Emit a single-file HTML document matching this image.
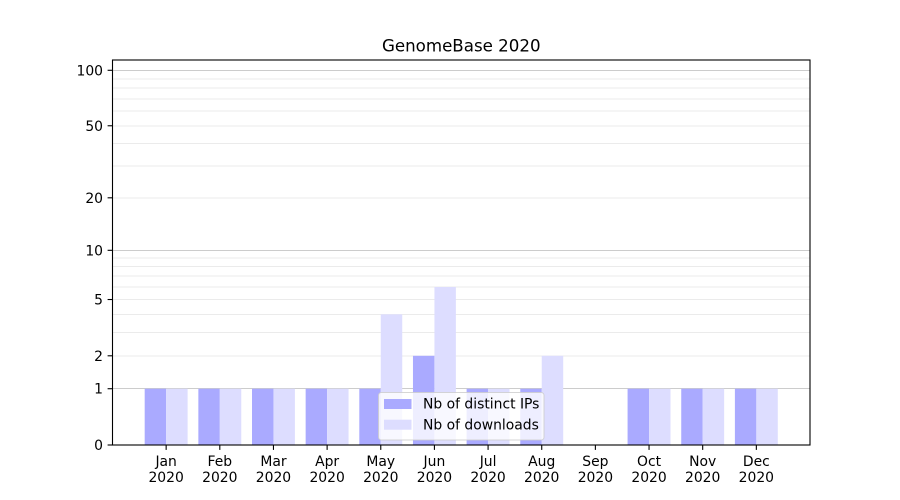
<!DOCTYPE html>
<html>
<head>
<meta charset="utf-8">
<style>
html,body{margin:0;padding:0;background:#fff;}
svg{display:block;}
text{font-family:"DejaVu Sans","Liberation Sans",sans-serif;fill:#000;}
</style>
</head>
<body>
<svg width="900" height="500" viewBox="0 0 900 500" xmlns="http://www.w3.org/2000/svg">
<rect x="0" y="0" width="900" height="500" fill="#fff"/>
<!-- minor grid -->
<g stroke="#ebebeb" stroke-width="1" shape-rendering="crispEdges">
<line x1="112.5" x2="810" y1="355.8" y2="355.8"/>
<line x1="112.5" x2="810" y1="332.44" y2="332.44"/>
<line x1="112.5" x2="810" y1="314.33" y2="314.33"/>
<line x1="112.5" x2="810" y1="299.52" y2="299.52"/>
<line x1="112.5" x2="810" y1="287.01" y2="287.01"/>
<line x1="112.5" x2="810" y1="276.17" y2="276.17"/>
<line x1="112.5" x2="810" y1="266.6" y2="266.6"/>
<line x1="112.5" x2="810" y1="258.05" y2="258.05"/>
<line x1="112.5" x2="810" y1="197.81" y2="197.81"/>
<line x1="112.5" x2="810" y1="166.19" y2="166.19"/>
<line x1="112.5" x2="810" y1="143.49" y2="143.49"/>
<line x1="112.5" x2="810" y1="125.77" y2="125.77"/>
<line x1="112.5" x2="810" y1="111.23" y2="111.23"/>
<line x1="112.5" x2="810" y1="98.91" y2="98.91"/>
<line x1="112.5" x2="810" y1="88.21" y2="88.21"/>
<line x1="112.5" x2="810" y1="78.76" y2="78.76"/>
</g>
<!-- major grid -->
<g stroke="#cccccc" stroke-width="1" shape-rendering="crispEdges">
<line x1="112.5" x2="810" y1="388.72" y2="388.72"/>
<line x1="112.5" x2="810" y1="250.31" y2="250.31"/>
<line x1="112.5" x2="810" y1="70.29" y2="70.29"/>
</g>
<!-- bars: IPs -->
<g fill="#aaaaff">
<rect x="144.69" y="388.72" width="21.46" height="56.28"/>
<rect x="198.35" y="388.72" width="21.46" height="56.28"/>
<rect x="252.0" y="388.72" width="21.46" height="56.28"/>
<rect x="305.65" y="388.72" width="21.46" height="56.28"/>
<rect x="359.31" y="388.72" width="21.46" height="56.28"/>
<rect x="412.96" y="355.8" width="21.46" height="89.2"/>
<rect x="466.62" y="388.72" width="21.46" height="56.28"/>
<rect x="520.27" y="388.72" width="21.46" height="56.28"/>
<rect x="627.58" y="388.72" width="21.46" height="56.28"/>
<rect x="681.23" y="388.72" width="21.46" height="56.28"/>
<rect x="734.89" y="388.72" width="21.46" height="56.28"/>
</g>
<!-- bars: downloads -->
<g fill="#ddddff">
<rect x="166.15" y="388.72" width="21.46" height="56.28"/>
<rect x="219.81" y="388.72" width="21.46" height="56.28"/>
<rect x="273.46" y="388.72" width="21.46" height="56.28"/>
<rect x="327.12" y="388.72" width="21.46" height="56.28"/>
<rect x="380.77" y="314.33" width="21.46" height="130.67"/>
<rect x="434.42" y="287.01" width="21.46" height="157.99"/>
<rect x="488.08" y="388.72" width="21.46" height="56.28"/>
<rect x="541.73" y="355.8" width="21.46" height="89.2"/>
<rect x="649.04" y="388.72" width="21.46" height="56.28"/>
<rect x="702.69" y="388.72" width="21.46" height="56.28"/>
<rect x="756.35" y="388.72" width="21.46" height="56.28"/>
</g>
<!-- spines -->
<rect x="112.5" y="60" width="697.5" height="385" fill="none" stroke="#000" stroke-width="1.1"/>
<!-- y ticks -->
<g stroke="#000" stroke-width="1.1">
<line x1="107.6" x2="112.5" y1="445" y2="445"/>
<line x1="107.6" x2="112.5" y1="388.72" y2="388.72"/>
<line x1="107.6" x2="112.5" y1="355.8" y2="355.8"/>
<line x1="107.6" x2="112.5" y1="299.52" y2="299.52"/>
<line x1="107.6" x2="112.5" y1="250.31" y2="250.31"/>
<line x1="107.6" x2="112.5" y1="197.81" y2="197.81"/>
<line x1="107.6" x2="112.5" y1="125.77" y2="125.77"/>
<line x1="107.6" x2="112.5" y1="70.29" y2="70.29"/>
</g>
<g font-size="13.9" text-anchor="end">
<text x="103" y="450">0</text>
<text x="103" y="393.7">1</text>
<text x="103" y="360.8">2</text>
<text x="103" y="304.5">5</text>
<text x="103" y="255.3">10</text>
<text x="103" y="202.8">20</text>
<text x="103" y="130.8">50</text>
<text x="103" y="75.3">100</text>
</g>
<!-- x ticks -->
<g stroke="#000" stroke-width="1.1">
<line x1="166.15" x2="166.15" y1="445" y2="449.9"/>
<line x1="219.81" x2="219.81" y1="445" y2="449.9"/>
<line x1="273.46" x2="273.46" y1="445" y2="449.9"/>
<line x1="327.12" x2="327.12" y1="445" y2="449.9"/>
<line x1="380.77" x2="380.77" y1="445" y2="449.9"/>
<line x1="434.42" x2="434.42" y1="445" y2="449.9"/>
<line x1="488.08" x2="488.08" y1="445" y2="449.9"/>
<line x1="541.73" x2="541.73" y1="445" y2="449.9"/>
<line x1="595.38" x2="595.38" y1="445" y2="449.9"/>
<line x1="649.04" x2="649.04" y1="445" y2="449.9"/>
<line x1="702.69" x2="702.69" y1="445" y2="449.9"/>
<line x1="756.35" x2="756.35" y1="445" y2="449.9"/>
</g>
<g font-size="13.9" text-anchor="middle">
<text x="166.15" y="466">Jan</text><text x="166.15" y="482">2020</text>
<text x="219.81" y="466">Feb</text><text x="219.81" y="482">2020</text>
<text x="273.46" y="466">Mar</text><text x="273.46" y="482">2020</text>
<text x="327.12" y="466">Apr</text><text x="327.12" y="482">2020</text>
<text x="380.77" y="466">May</text><text x="380.77" y="482">2020</text>
<text x="434.42" y="466">Jun</text><text x="434.42" y="482">2020</text>
<text x="488.08" y="466">Jul</text><text x="488.08" y="482">2020</text>
<text x="541.73" y="466">Aug</text><text x="541.73" y="482">2020</text>
<text x="595.38" y="466">Sep</text><text x="595.38" y="482">2020</text>
<text x="649.04" y="466">Oct</text><text x="649.04" y="482">2020</text>
<text x="702.69" y="466">Nov</text><text x="702.69" y="482">2020</text>
<text x="756.35" y="466">Dec</text><text x="756.35" y="482">2020</text>
</g>
<!-- title -->
<text x="461.25" y="51.5" font-size="16.67" text-anchor="middle">GenomeBase 2020</text>
<!-- legend -->
<rect x="378.5" y="392.5" width="165.5" height="47.5" rx="2.8" ry="2.8" fill="#ffffff" fill-opacity="0.8" stroke="#cccccc" stroke-opacity="0.8" stroke-width="1"/>
<rect x="384" y="399" width="27.5" height="10" fill="#aaaaff"/>
<rect x="384" y="419.7" width="27.5" height="10" fill="#ddddff"/>
<g font-size="13.9">
<text x="423" y="408.5">Nb of distinct IPs</text>
<text x="423" y="429.5">Nb of downloads</text>
</g>
</svg>
</body>
</html>
